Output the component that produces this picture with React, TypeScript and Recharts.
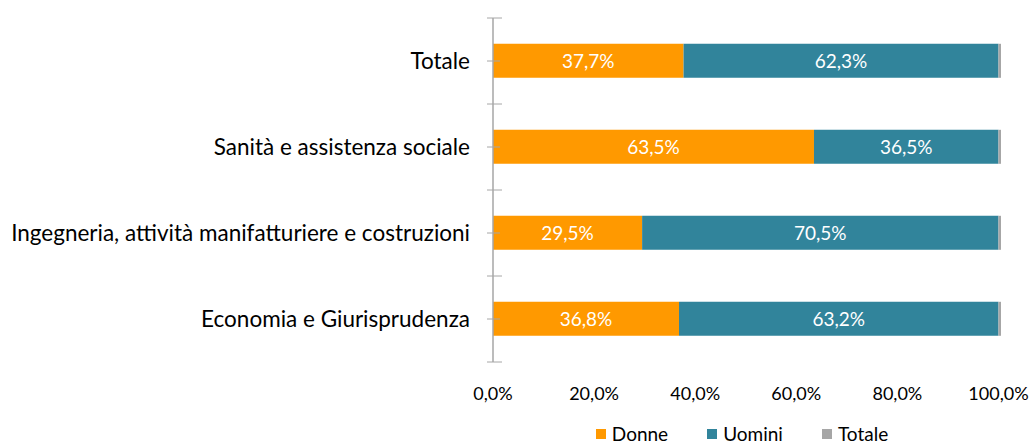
import { BarChart, Bar, XAxis, YAxis, LabelList } from 'recharts'

const categories = ['Totale', 'Sanità e assistenza sociale', 'Ingegneria, attività manifatturiere e costruzioni', 'Economia e Giurisprudenza']
const donne = [0.377, 0.635, 0.295, 0.368]
const uomini = [0.623, 0.365, 0.705, 0.632]
const totale = [0.005, 0.005, 0.005, 0.005]
const xTicks = [0, 0.2, 0.4, 0.6, 0.8, 1]

const data = categories.map((c, i) => ({ name: c, donne: donne[i], uomini: uomini[i], totale: totale[i] }))

const W = 1032
const H = 443
const X_H = 60
const M = { top: 18, right: 31, bottom: 81 - X_H, left: 0 }
const Y_W = 493
const halfBand = (H - M.top - M.bottom - X_H) / categories.length / 2
const FONT = 'Lato, "Open Sans", sans-serif'
const AXIS = '#A6A6A6'

const pct = (v: number) => (v * 100).toFixed(1).replace('.', ',') + '%'

function CatTick(props: any) {
  const { x, y, payload, index } = props
  const last = index === categories.length - 1
  return (
    <g>
      <line x1={x - 6} x2={x + 7} y1={y} y2={y} stroke={AXIS} />
      <line x1={x - 6} x2={x + 9} y1={y - halfBand} y2={y - halfBand} stroke={AXIS} />
      {last && <line x1={x - 6} x2={x + 9} y1={y + halfBand} y2={y + halfBand} stroke={AXIS} />}
      <text x={x - 23} y={y} dy={8} textAnchor="end" fontSize={22.5} fill="#000" fontFamily={FONT}>{payload.value}</text>
    </g>
  )
}

const legendItems = [
  { label: 'Donne', color: '#FF9900' },
  { label: 'Uomini', color: '#31849B' },
  { label: 'Totale', color: '#A6A6A6' },
]

function Legend() {
  return (
    <div style={{ position: 'absolute', left: Y_W, width: W - Y_W - M.right - 10, top: 422, display: 'flex', justifyContent: 'center', gap: 39, fontFamily: FONT, fontSize: 19, color: '#000' }}>
      {legendItems.map((it) => (
        <div key={it.label} style={{ display: 'flex', alignItems: 'center' }}>
          <span style={{ width: 10, height: 10, background: it.color, marginRight: 6, display: 'inline-block' }} />
          {it.label}
        </div>
      ))}
    </div>
  )
}

export default function App() {
  return (
    <div style={{ position: 'absolute', left: 0, top: 0, width: W, height: H, background: '#fff' }}>
      <BarChart width={W} height={H} data={data} layout="vertical" margin={M} barCategoryGap="30%">
        <XAxis
          type="number"
          domain={[0, 1.005]}
          ticks={xTicks}
          tickFormatter={pct}
          axisLine={false}
          tickLine={false}
          allowDataOverflow
          height={X_H}
          tickMargin={19}
          tick={{ fontSize: 18, fill: '#000', fontFamily: FONT }}
        />
        <YAxis
          type="category"
          dataKey="name"
          width={Y_W}
          tickSize={0}
          tickMargin={0}
          tickLine={false}
          axisLine={{ stroke: AXIS, strokeWidth: 1.5 }}
          tick={<CatTick />}
          interval={0}
        />
        <Bar dataKey="donne" stackId="a" fill="#FF9900" isAnimationActive={false}>
          <LabelList dataKey="donne" position="center" formatter={(v: any) => pct(Number(v))} fill="#fff" fontSize={19} fontFamily={FONT} />
        </Bar>
        <Bar dataKey="uomini" stackId="a" fill="#31849B" isAnimationActive={false}>
          <LabelList dataKey="uomini" position="center" formatter={(v: any) => pct(Number(v))} fill="#fff" fontSize={19} fontFamily={FONT} />
        </Bar>
        <Bar dataKey="totale" stackId="a" fill="#A6A6A6" isAnimationActive={false} />
      </BarChart>
      <Legend />
    </div>
  )
}
